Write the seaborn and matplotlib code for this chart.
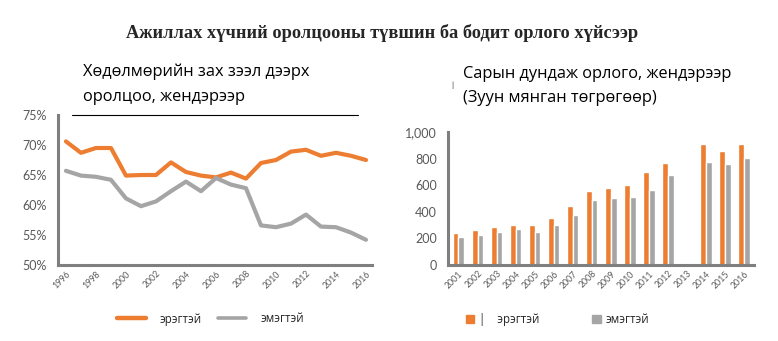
import numpy as np
import pandas as pd
import matplotlib
matplotlib.use("Agg")
import matplotlib.pyplot as plt
import seaborn as sns
from matplotlib.lines import Line2D
from matplotlib.patches import Patch

sns.set_theme(style="white")
plt.rcParams['font.family'] = ['Lato', 'DejaVu Sans']

# ---------------- data ----------------
years_line = list(range(1996, 2017))
male_rate = [70.6, 68.7, 69.5, 69.5, 64.9, 65.0, 65.0, 67.1, 65.5, 64.9, 64.6,
             65.4, 64.4, 67.0, 67.5, 68.9, 69.2, 68.2, 68.7, 68.2, 67.5]
female_rate = [65.7, 64.9, 64.7, 64.2, 61.1, 59.8, 60.6, 62.3, 63.9, 62.3, 64.5,
               63.4, 62.8, 56.6, 56.3, 56.9, 58.4, 56.4, 56.3, 55.4, 54.2]

years_bar = [str(y) for y in range(2001, 2017)]
male_wage = [239, 264, 286, 301, 301, 354, 445, 558, 580, 603, 701, 769, np.nan, 912, 859, 912]
female_wage = [211, 226, 249, 271, 249, 301, 377, 490, 505, 513, 565, 678, np.nan, 776, 761, 807]

label_m = "эрэгтэй"
label_f = "эмэгтэй"
title = "Ажиллах хүчний оролцооны түвшин ба бодит орлого хүйсээр"
sub_left = "Хөдөлмөрийн зах зээл дээрх\nоролцоо, жендэрээр"
sub_right = "Сарын дундаж орлого, жендэрээр\n(Зуун мянган төгрөгөөр)"

ORANGE = "#ED7D31"
GRAY = "#A5A5A5"
SPINE = "#7F7F7F"
TXT = "#595959"
SANS = ["Open Sans", "DejaVu Sans"]

W, H = 778, 341
fig = plt.figure(figsize=(W / 100, H / 100), dpi=100)

# ---------------- left: line chart ----------------
axL = fig.add_axes([58 / W, 1 - 265 / H, 314 / W, 150 / H])
df_line = pd.DataFrame({
    "year": years_line * 2,
    "rate": male_rate + female_rate,
    "sex": [label_m] * len(years_line) + [label_f] * len(years_line),
})
sns.lineplot(data=df_line, x="year", y="rate", hue="sex",
             palette={label_m: ORANGE, label_f: GRAY}, linewidth=3.0,
             legend=False, ax=axL)
axL.set_xlim(1995.47, 2016.4)
axL.set_ylim(50, 75)
axL.set_yticks([50, 55, 60, 65, 70, 75])
axL.set_yticklabels(["50%", "55%", "60%", "65%", "70%", "75%"])
axL.set_xticks(list(range(1996, 2017, 2)))
axL.set_xticklabels([str(y) for y in range(1996, 2017, 2)], rotation=45,
                    fontsize=6.3, color=TXT, ha="right", rotation_mode="anchor")
axL.tick_params(axis="y", labelsize=9, colors=TXT, pad=8, length=0)
axL.tick_params(axis="x", length=0, pad=3)
axL.set_xlabel("")
axL.set_ylabel("")
for s in ["top", "right"]:
    axL.spines[s].set_visible(False)
for s in ["left", "bottom"]:
    axL.spines[s].set_color(SPINE)
    axL.spines[s].set_linewidth(2.2)
axL.axhline(75, xmin=0.045, xmax=0.955, color="black", linewidth=0.8, clip_on=False)

axL.legend(handles=[Line2D([0], [0], color=ORANGE, lw=3.2),
                    Line2D([0], [0], color=GRAY, lw=2.6)],
           labels=[label_m, label_f], ncol=2, frameon=False,
           loc="center", bbox_to_anchor=(0.485, -0.36),
           prop={"family": SANS, "size": 8.3},
           handlelength=2.5, columnspacing=1.4, handletextpad=1.2)

# ---------------- right: bar chart ----------------
axR = fig.add_axes([448 / W, 1 - 265 / H, 306 / W, 133 / H])
df_bar = pd.DataFrame({
    "year": years_bar * 2,
    "wage": male_wage + female_wage,
    "sex": [label_m] * len(years_bar) + [label_f] * len(years_bar),
})
sns.barplot(data=df_bar, x="year", y="wage", hue="sex", order=years_bar,
            palette={label_m: ORANGE, label_f: GRAY}, width=0.6,
            saturation=1, legend=False, ax=axR)
axR.set_xlim(-0.55, 15.52)
axR.set_ylim(0, 1000)
axR.set_yticks([0, 200, 400, 600, 800, 1000])
axR.set_yticklabels(["0", "200", "400", "600", "800", "1,000"])
axR.tick_params(axis="y", labelsize=9, colors=TXT, pad=8, length=0)
axR.tick_params(axis="x", length=0, pad=3)
plt.setp(axR.get_xticklabels(), rotation=45, fontsize=6.3, color=TXT,
         ha="right", rotation_mode="anchor")
axR.set_xlabel("")
axR.set_ylabel("")
for s in ["top", "right"]:
    axR.spines[s].set_visible(False)
for s in ["left", "bottom"]:
    axR.spines[s].set_color(SPINE)
    axR.spines[s].set_linewidth(2.2)

axR.legend(handles=[Patch(color=ORANGE), Patch(color=GRAY)],
           labels=["|    " + label_m, label_f], ncol=2, frameon=False,
           loc="center", bbox_to_anchor=(0.358, -0.41),
           prop={"family": SANS, "size": 8.3},
           handlelength=0.75, handleheight=0.75, columnspacing=4.6,
           handletextpad=0.4)

# ---------------- texts ----------------
fig.text(382 / W, 1 - 33 / H, title, ha="center", va="center",
         fontsize=13.2, fontweight="bold", family=["Liberation Serif", "DejaVu Serif"])
fig.text(83 / W, 1 - 84 / H, sub_left, ha="left", va="center", fontsize=11.8,
         color="black", linespacing=1.75, family=SANS)
fig.text(463 / W, 1 - 86 / H, sub_right, ha="left", va="center", fontsize=11.8,
         color="black", linespacing=1.6, family=SANS)
fig.text(452 / W, 1 - 85 / H, "|", ha="center", va="center", fontsize=6, color="#404040")

fig.savefig("out.png", dpi=100)
